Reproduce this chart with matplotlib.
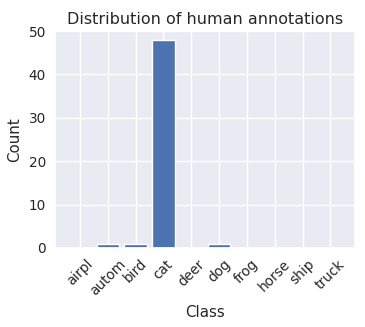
import numpy as np
import matplotlib
matplotlib.use("Agg")
import matplotlib.pyplot as plt
import seaborn as sns

sns.set_theme(style="darkgrid")
plt.rcParams['font.family'] = ['DejaVu Sans']

classes = ["airpl", "autom", "bird", "cat", "deer", "dog", "frog", "horse", "ship", "truck"]
counts = [0, 1, 1, 48, 0, 1, 0, 0, 0, 0]

fig = plt.figure(figsize=(3.65, 3.27), dpi=100)
ax = fig.add_axes([0.151, 0.242, 0.822, 0.663])
x = np.arange(len(classes))
ax.bar(x, counts, width=0.8, color="#4c72b0")
ax.set_xticks(x)
ax.set_xticklabels(classes, rotation=45)
ax.tick_params(axis='both', labelsize=9.8, size=0, pad=6.5)
ax.set_ylim(0, 50)
ax.set_title("Distribution of human annotations", fontsize=11.5, pad=5)
ax.set_xlabel("Class", fontsize=10.8, labelpad=5)
ax.set_ylabel("Count", fontsize=10.8, labelpad=5)
fig.savefig("out.png")
